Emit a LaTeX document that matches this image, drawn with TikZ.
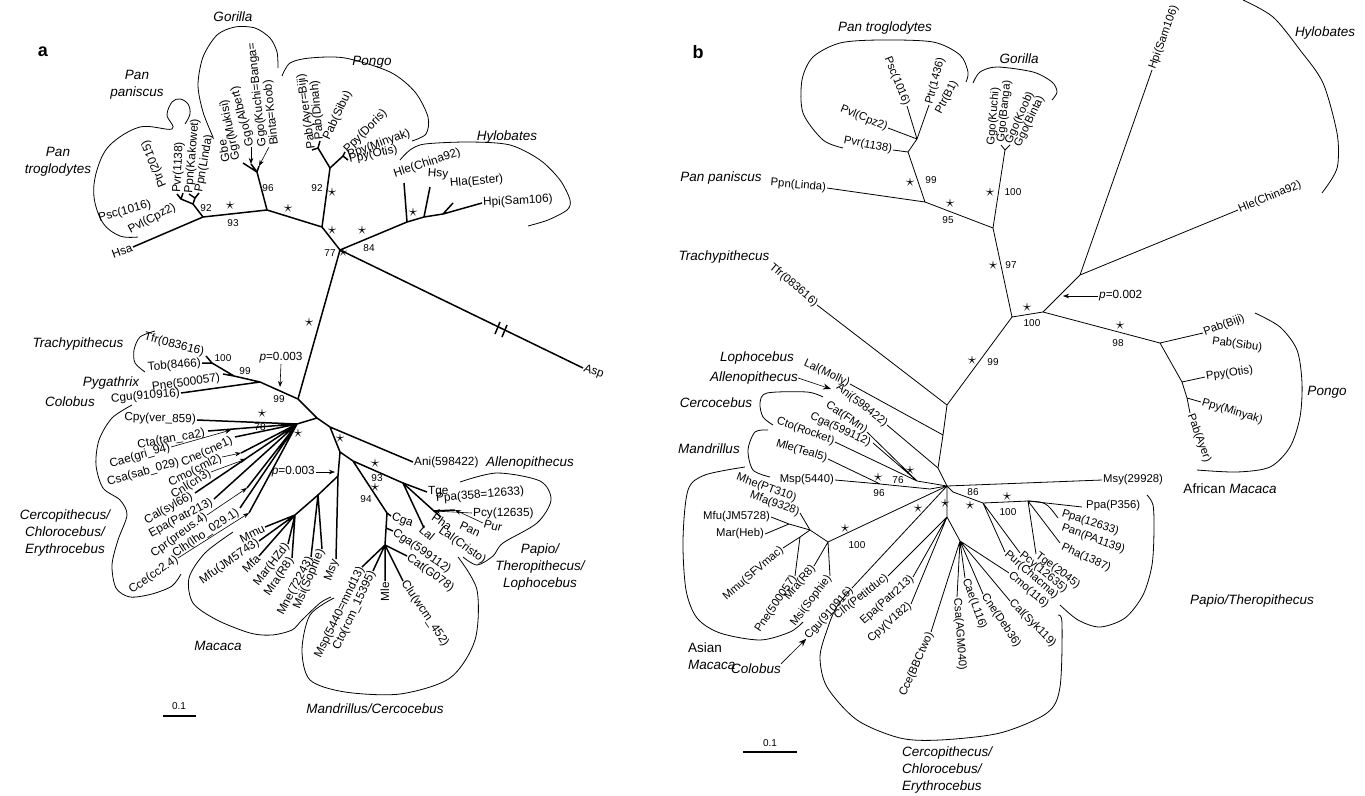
\documentclass[tikz,border=0pt]{standalone}
\usepackage{fontspec}
\setmainfont{Liberation Sans}
\usetikzlibrary{arrows.meta}

\tikzset{
  lab/.style={font=\fontsize{11.8}{12}\selectfont, inner sep=1pt},
  labb/.style={font=\fontsize{11.3}{12}\selectfont, inner sep=1pt},
  grp/.style={font=\fontsize{13.5}{17}\selectfont\itshape, align=center, inner sep=0pt},
  num/.style={font=\fontsize{10}{10}\selectfont, inner sep=0pt},
  sig/.style={font=\fontsize{17}{17}\selectfont, inner sep=0pt},
  bra/.style={line width=1.5pt, line join=round},
  brb/.style={line width=0.8pt, line join=round},
  outl/.style={line width=0.8pt},
  parr/.style={-{Stealth[length=6pt, width=4.5pt]}, line width=0.6pt},
}

\begin{document}
\begin{tikzpicture}[x=1pt, y=-1pt]
\useasboundingbox (0,0) rectangle (1365,795);

% ===== a =====
\node[font=\fontsize{18}{18}\selectfont\bfseries] (pa) at (43,52) {a};

% --- apes ---
\coordinate (aHsa) at (133,247);
\coordinate (a93) at (203,217);
\coordinate (a92) at (193,204);
\coordinate (aCh) at (181,199);
\coordinate (aCh1) at (177,194);
\coordinate (aCh2) at (183,193);
\coordinate (aBo) at (195,198);
\coordinate (aBo1) at (189,194);
\coordinate (aBo2) at (199,193);
\coordinate (aG) at (267,210);
\coordinate (aGt) at (257,172);
\coordinate (aG1) at (243,163);
\coordinate (aG2) at (251,164);
\coordinate (aG3) at (259,166);
\coordinate (aP) at (322,227);
\coordinate (aR) at (340,250);
\coordinate (aPs) at (330,168);
\coordinate (aPl) at (318,148);
\coordinate (aPl1) at (312,150);
\coordinate (aPl2) at (320,141);
\coordinate (aPr) at (343,156);
\coordinate (aPr1) at (345,152);
\coordinate (aPr2) at (348,160);
\coordinate (aH) at (407,222);
\coordinate (aH2) at (424,217);
\coordinate (aH3) at (443,214);
\coordinate (aHle) at (404,183);
\coordinate (aHsy) at (430,187);
\coordinate (aHla) at (453,203);
\coordinate (aHpi) at (482,203);

\draw[bra] (aHsa) -- (a93) -- (aG) -- (aP) -- (aR);
\draw[bra] (a93) -- (a92) -- (aCh) (aCh1) -- (aCh) -- (aCh2);
\draw[bra] (a92) -- (aBo) (aBo1) -- (aBo) -- (aBo2);
\draw[bra] (aG) -- (aGt) (aG1) -- (aGt) -- (aG3) (aGt) -- (aG2);
\draw[bra] (aP) -- (aPs) -- (aPl) (aPs) -- (aPr) (aPl1) -- (aPl) -- (aPl2) (aPr1) -- (aPr) -- (aPr2);
\draw[bra] (aR) -- (aH) -- (aH2) -- (aH3) -- (aHpi) (aH) -- (aHle) (aH2) -- (aHsy) (aH3) -- (aHla);

\node[lab, rotate=20, anchor=east] (lHsa) at (aHsa) {Hsa};
\node[lab, rotate=15, anchor=east] (lPsc) at (152,204) {Psc(1016)};
\node[lab, rotate=28, anchor=east] (lPvl) at (176,206) {Pvl(Cpz2)};
\node[lab, rotate=112, anchor=west] (lPtr) at (164,188) {Ptr(2015)};
\node[lab, rotate=87, anchor=west] (lPvr) at (aCh1) {Pvr(1138)};
\node[lab, rotate=85, anchor=west] (lPpnK) at (aBo1) {Ppn(Kakowet)};
\node[lab, rotate=80, anchor=west] (lPpnL) at (aBo2) {Ppn(Linda)};
\node[lab, rotate=100, anchor=west] (lGbe) at (226,163) {Gbe};
\node[lab, rotate=102, anchor=west] (lGgr) at (237,161) {Ggr(Mukisi)};
\node[lab, rotate=105, anchor=west] (lGgoA) at (251,147) {Ggo(Albert)};
\node[lab, rotate=96, anchor=west, align=left] (lGgoK) at (269,147) {Ggo(Kuchi=Banga=\\Binta=Koob)};
\draw[parr] (lGgoA.west) -- (aG2);
\draw[parr] (lGgoK.west) -- (aG3);
\node[lab, rotate=98, anchor=west] (lPabA) at (aPl1) {Pab(Ayer=Biji)};
\node[lab, rotate=95, anchor=west] (lPabD) at (aPl2) {Pab(Dinah)};
\node[lab, rotate=65, anchor=west] (lPabS) at (326,140) {Pab(Sibu)};
\node[lab, rotate=45, anchor=west] (lPpyD) at (aPr1) {Ppy(Doris)};
\node[lab, rotate=20, anchor=west] (lPpyM) at (347,156) {Ppy(Minyak)};
\node[lab, rotate=12, anchor=west] (lPpyO) at (aPr2) {Ppy(Otis)};
\node[lab, rotate=18, anchor=south west] (lHle) at (395,181) {Hle(China92)};
\node[lab, rotate=-4] (lHsy) at (438,174) {Hsy};
\node[lab, rotate=5, anchor=west] (lHla) at (449,184) {Hla(Ester)};
\node[lab, rotate=3, anchor=west] (lHpi) at (aHpi) {Hpi(Sam106)};

\node[num] (na1) at (206,208) {92};
\node[sig] (sa1) at (230,205) {$\star$};
\node[num] (na2) at (233,223) {93};
\node[num] (na3) at (268,188) {96};
\node[sig] (sa2) at (288,208) {$\star$};
\node[num] (na4) at (317,188) {92};
\node[sig] (sa3) at (332,192) {$\star$};
\node[sig] (sa4) at (332,230) {$\star$};
\node[num] (na5) at (330,253) {77};
\node[sig] (sa5) at (343,252) {$\star$};
\node[sig] (sa6) at (362,230) {$\star$};
\node[num] (na6) at (369,248) {84};
\node[sig] (sa7) at (413,212) {$\star$};

\node[grp] (gGor) at (233,17) {Gorilla};
\node[grp] (gPon) at (372,62) {Pongo};
\node[grp] (gHyl) at (507,137) {Hylobates};
\node[grp] (gPpa) at (137,85) {Pan\\paniscus};
\node[grp] (gPtr) at (58,162) {Pan\\troglodytes};

\draw[outl] plot[smooth, tension=0.6] coordinates {(138,237) (120,236) (103,223) (94,197) (97,170) (110,145) (140,127) (172,129) (167,115) (172,102) (180,99) (188,104) (190,114) (185,124)};
\draw[outl] plot[smooth] coordinates {(213,137) (203,112) (198,85) (203,57) (217,35) (235,27) (255,28) (270,38) (277,52) (278,68)};
\draw[outl] plot[smooth] coordinates {(282,76) (290,63) (310,58) (345,58) (390,72) (415,92) (428,117) (426,134) (412,141)};
\draw[outl] plot[smooth] coordinates {(400,160) (410,150) (425,144) (470,142) (510,145) (540,160) (560,180) (570,200) (567,210) (548,220) (528,226)};

% --- long branches ---
\coordinate (aO) at (298,399);
\coordinate (aAsp) at (583,368);
\draw[bra] (aR) -- (aO);
\draw[bra] (aR) -- (aAsp);
\draw[bra] (495,334) -- (500,322) (502,337) -- (507,325);
\node[lab, rotate=-20, anchor=west] (lAsp) at (aAsp) {Asp};
\node[sig] (sa8) at (309,322) {$\star$};

% --- colobines ---
\coordinate (aC1) at (260,382);
\coordinate (aC2) at (234,376);
\coordinate (aC3) at (212,363);
\coordinate (aCgu) at (181,393);
\coordinate (aPne) at (223,374);
\coordinate (aTob) at (202,363);
\coordinate (aTfr) at (206,356);
\draw[bra] (aO) -- (aC1) -- (aC2) -- (aC3) -- (aTob) (aC3) -- (aTfr) (aC2) -- (aPne) (aC1) -- (aCgu);
\node[lab, rotate=5, anchor=east] (lCgu) at (aCgu) {Cgu(910916)};
\node[lab, rotate=8, anchor=east] (lPne) at (221,378) {Pne(500057)};
\node[lab, rotate=5, anchor=east] (lTob) at (aTob) {Tob(8466)};
\node[lab, rotate=-15, anchor=east] (lTfr) at (205,353) {Tfr(083616)};
\node[num] (na7) at (223,358) {100};
\node[num] (na8) at (245,371) {99};
\node[num] (na9) at (279,399) {99};
\node[lab, anchor=south] (pa1) at (281,364) {\textit{p}=0.003};
\coordinate (aPt1) at (280,387);
\draw[parr] (pa1.south) -- (aPt1);
\node[grp] (gTra) at (78,344) {Trachypithecus};
\node[grp] (gPyg) at (111,383) {Pygathrix};
\node[grp] (gCol) at (70,402) {Colobus};
\draw[outl] plot[smooth] coordinates {(155,331) (140,337) (134,350) (135,363) (145,372)};

% --- cercopithecines ---
\coordinate (aJO) at (317,418);
\coordinate (aJC) at (297,424);
\coordinate (aJA) at (330,427);
\coordinate (aAni) at (413,462);
\coordinate (aPp) at (340,452);
\coordinate (aB) at (353,461);
\coordinate (aT) at (403,483);
\coordinate (aTge) at (427,492);
\coordinate (aCg) at (387,513);
\coordinate (aM0) at (338,476);
\coordinate (aMsy) at (336,559);
\coordinate (aJM) at (295,515);
\coordinate (aJM3) at (318,495);
\draw[bra] (aO) -- (aJO) -- (aJC) (aJO) -- (aJA) -- (aAni) (aJA) -- (aPp) -- (aB) -- (aT) -- (aTge) (aB) -- (aCg) (aPp) -- (aM0) -- (aMsy) (aM0) -- (aJM3) -- (aJM);
\node[lab, anchor=west] (lAni) at (aAni) {Ani(598422)};
\node[grp, anchor=west] (gAll) at (486,463) {Allenopithecus};
\node[sig] (sa9) at (340,438) {$\star$};
\node[lab, anchor=east] (pa2) at (316,472) {\textit{p}=0.003};
\coordinate (aPt2) at (335,472);
\draw[parr] (pa2.east) -- (aPt2);
\node[sig] (sa10) at (375,463) {$\star$};
\node[num] (na10) at (377,478) {93};
\node[sig] (sa11) at (375,487) {$\star$};
\node[num] (na11) at (366,499) {94};

% Macaca
\coordinate (aMmu) at (265,527);
\coordinate (aMfu) at (259,541);
\coordinate (aMfa) at (259,556);
\coordinate (aMar) at (288,544);
\coordinate (aMra) at (292,558);
\coordinate (aMne) at (311,557);
\coordinate (aMsi) at (322,549);
\draw[bra] (aMmu) -- (aJM) -- (aMfu) (aMfa) -- (aJM) -- (aMar) (aJM) -- (aMra) (aMne) -- (aJM3) -- (aMsi);
\node[lab, rotate=27, anchor=east] (lMmu) at (aMmu) {Mmu};
\node[lab, rotate=35, anchor=east] (lMfu) at (aMfu) {Mfu(JM5743)};
\node[lab, rotate=45, anchor=east] (lMfa) at (aMfa) {Mfa};
\node[lab, rotate=52, anchor=east] (lMar) at (aMar) {Mar(HZd)};
\node[lab, rotate=56, anchor=east] (lMra) at (aMra) {Mra(R8)};
\node[lab, rotate=62, anchor=east] (lMne) at (aMne) {Mne(72243)};
\node[lab, rotate=67, anchor=east] (lMsi) at (aMsi) {Msi(Sophie)};
\node[lab, rotate=70, anchor=east] (lMsy) at (aMsy) {Msy};
\node[grp] (gMac) at (218,646) {Macaca};
\draw[outl] plot[smooth] coordinates {(233,532) (205,553) (189,578) (193,603) (217,620) (250,633) (272,635) (292,630) (302,620) (320,603) (331,597)};

% Cercopithecini
\coordinate (aCpy) at (197,420);
\coordinate (aCta) at (208,431);
\coordinate (aCae) at (231,430);
\coordinate (aCne) at (235,437);
\coordinate (aCmo) at (241,453);
\coordinate (aCnl) at (246,459);
\coordinate (aCal) at (195,493);
\coordinate (aEpa) at (214,499);
\coordinate (aCpr) at (247,488);
\coordinate (aClh) at (240,508);
\coordinate (aCce) at (249,513);
\draw[bra] (aJC) -- (aCpy) (aJC) -- (aCta) (aJC) -- (aCne) (aJC) -- (aCmo) (aJC) -- (aCal) (aJC) -- (aEpa) (aJC) -- (aCpr) (aJC) -- (aClh) (aJC) -- (aCce);
\node[lab, rotate=-2, anchor=east] (lCpy) at (aCpy) {Cpy(ver\_859)};
\node[lab, rotate=10, anchor=east] (lCta) at (206,433) {Cta(tan\_ca2)};
\node[lab, rotate=16, anchor=east] (lCae) at (171,447) {Cae(gri\_94)};
\node[lab, rotate=16, anchor=east] (lCsa) at (180,462) {Csa(sab\_029)};
\node[lab, rotate=25, anchor=east] (lCne) at (233,440) {Cne(cne1)};
\node[lab, rotate=27, anchor=east] (lCmo) at (222,457) {Cmo(cml2)};
\node[lab, rotate=32, anchor=east] (lCnl) at (211,472) {Cnl(cn3)};
\node[lab, rotate=29, anchor=east] (lCal) at (193,495) {Cal(syl66)};
\node[lab, rotate=28, anchor=east] (lEpa) at (213,501) {Epa(Patr213)};
\node[lab, rotate=36, anchor=east] (lCpr) at (207,515) {Cpr(preus.4)};
\node[lab, rotate=34, anchor=east] (lClh) at (239,511) {Clh(lho\_029.1)};
\node[lab, rotate=35, anchor=east] (lCce) at (178,558) {Cce(cc2.4)};
\draw[parr] (lCae.east) -- (aCae);
\draw[parr] (lCmo.east) -- (aCmo);
\draw[parr] (lCnl.east) -- (aCnl);
\draw[parr] (lCpr.east) -- (aCpr);
\draw[parr] (lCce.east) -- (aCce);
\node[sig] (sa12) at (262,413) {$\star$};
\node[num] (na12) at (260,427) {78};
\node[sig] (sa13) at (298,433) {$\star$};
\node[grp] (gCer) at (65,533) {Cercopithecus/\\Chlorocebus/\\Erythrocebus};
\draw[outl] plot[smooth] coordinates {(132,405) (112,418) (99,440) (96,465) (103,488) (120,500) (127,515) (118,540) (112,565) (116,588) (130,597) (152,594) (172,586) (181,574)};

% Papionini
\coordinate (aLal) at (424,528);
\coordinate (aPa) at (434,511);
\coordinate (aPha) at (441,517);
\coordinate (aPur) at (455,510);
\draw[bra] (aT) -- (aLal) (aT) -- (aPa) -- (aPha) (aPa) -- (aPur);
\node[lab, anchor=west] (lTge) at (aTge) {Tge};
\node[lab, rotate=5, anchor=west] (lPpa) at (435,499) {Ppa(358=12633)};
\node[lab, anchor=west] (lPcy) at (472,513) {Pcy(12635)};
\node[lab, rotate=-15, anchor=west] (lPur) at (483,523) {Pur};
\node[lab, rotate=-35] (lPha) at (442,522) {Pha};
\node[lab, rotate=-25] (lPan) at (470,529) {Pan};
\node[lab, rotate=-40] (lLal) at (427,533) {Lal};
\node[lab, rotate=-35, anchor=west] (lLalC) at (439,529) {Lal(Cristo)};
\draw[parr] (lPcy.west) -- (aPa);
\draw[parr] (lPur.west) -- (aPur);
\node[grp] (gPap) at (540,567) {Papio/\\Theropithecus/\\Lophocebus};
\draw[outl] plot[smooth] coordinates {(460,482) (497,473) (540,481) (551,500) (537,523) (503,543) (493,556) (477,565) (463,557)};

% Mandrillus / Cercocebus
\coordinate (aCga) at (391,516);
\coordinate (aCg2) at (385,545);
\coordinate (aCgx) at (386,528);
\coordinate (aCga2) at (393,531);
\coordinate (aMsp) at (362,567);
\coordinate (aCto) at (373,571);
\coordinate (aMle) at (385,581);
\coordinate (aClu) at (403,581);
\coordinate (aCat) at (407,556);
\draw[bra] (aCg) -- (aCga) (aCg) -- (aCg2) (aCgx) -- (aCga2) (aCg2) -- (aMsp) (aCg2) -- (aCto) (aCg2) -- (aMle) (aCg2) -- (aClu) (aCg2) -- (aCat);
\node[lab, rotate=-20, anchor=west] (lCga) at (aCga) {Cga};
\node[lab, rotate=-35, anchor=west] (lCga2) at (aCga2) {Cga(599112)};
\node[lab, rotate=64, anchor=east] (lMsp) at (aMsp) {Msp(5440=mnd13)};
\node[lab, rotate=65, anchor=east] (lCto) at (aCto) {Cto(rcm\_15395)};
\node[lab, rotate=90, anchor=east] (lMle) at (aMle) {Mle};
\node[lab, rotate=-56, anchor=west] (lClu) at (aClu) {Clu(wcm\_452)};
\node[lab, rotate=-36, anchor=west] (lCat) at (aCat) {Cat(G078)};
\node[grp] (gMan) at (375,709) {Mandrillus/Cercocebus};
\draw[outl] plot[smooth] coordinates {(334,598) (310,615) (302,650) (310,680) (345,692) (400,694) (450,678) (475,640) (477,590) (458,557)};

% scale a
\draw[line width=1.5pt] (163,716) -- (196,716);
\node[num] (sca) at (179,706) {0.1};

% ===== b =====
\node[font=\fontsize{18}{18}\selectfont\bfseries] (pb) at (698,52) {b};

\coordinate (bPvr) at (893,150);
\coordinate (bPt) at (908,152);
\coordinate (bPt2) at (917,139);
\coordinate (bPvl) at (888,128);
\coordinate (bPsc) at (907,106);
\coordinate (bPtr) at (929,105);
\coordinate (bPp) at (925,202);
\coordinate (bPpn) at (827,188);
\coordinate (bHo) at (993,228);
\coordinate (bGo) at (1005,150);
\coordinate (bGo1) at (1001,145);
\coordinate (bGo2) at (1010,145);
\coordinate (bGA) at (1012,317);
\coordinate (bHP) at (1043,312);
\coordinate (bHy) at (1080,275);
\coordinate (bHpi) at (1152,70);
\coordinate (bHle) at (1238,210);
\coordinate (bPo) at (1160,343);
\coordinate (bBiji) at (1203,333);
\coordinate (bPo2) at (1182,382);
\coordinate (bOtis) at (1205,377);
\coordinate (bPo3) at (1187,398);
\coordinate (bMinyak) at (1201,402);
\coordinate (bAyer) at (1190,413);
\draw[brb] (bPvr) -- (bPt) -- (bPt2) -- (bPtr) (bPt2) -- (bPsc) (bPt2) -- (bPvl);
\draw[brb] (bPt) -- (bPp) -- (bPpn) (bPp) -- (bHo) -- (bGo) (bGo1) -- (bGo) -- (bGo2) (bHo) -- (bGA) -- (bHP) -- (bHy) -- (bHpi) (bHy) -- (bHle);
\draw[brb] (bHP) -- (bPo) -- (bBiji) (bPo) -- (bPo2) -- (bOtis) (bPo2) -- (bPo3) -- (bMinyak) (bPo3) -- (bAyer);

\node[labb, rotate=-11, anchor=east] (lbPvr) at (bPvr) {Pvr(1138)};
\node[labb, rotate=-22, anchor=east] (lbPvl) at (bPvl) {Pvl(Cpz2)};
\node[labb, rotate=-68, anchor=east] (lbPsc) at (bPsc) {Psc(1016)};
\node[labb, rotate=75, anchor=west] (lbPtr) at (bPtr) {Ptr(1436)};
\node[labb, rotate=62, anchor=west] (lbPtrB) at (938,114) {Ptr(B1)};
\node[labb, rotate=-5, anchor=east] (lbPpn) at (bPpn) {Ppn(Linda)};
\node[labb, rotate=85, anchor=west] (lbGgoK) at (991,146) {Ggo(Kuchi)};
\node[labb, rotate=84, anchor=west] (lbGgoB) at (1001,143) {Ggo(Banga)};
\node[labb, rotate=66, anchor=west] (lbGgoO) at (1008,144) {Ggo(Koob)};
\node[labb, rotate=64, anchor=west] (lbGgoT) at (1017,147) {Ggo(Binta)};
\node[labb, rotate=70, anchor=west] (lbHpi) at (bHpi) {Hpi(Sam106)};
\node[labb, rotate=22, anchor=west] (lbHle) at (bHle) {Hle(China92)};
\node[labb, rotate=20, anchor=west] (lbBiji) at (bBiji) {Pab(Biji)};
\node[labb, rotate=-8, anchor=west] (lbSibu) at (1211,341) {Pab(Sibu)};
\node[labb, rotate=8, anchor=west] (lbOtis) at (bOtis) {Ppy(Otis)};
\node[labb, rotate=-17, anchor=west] (lbMinyak) at (bMinyak) {Ppy(Minyak)};
\node[labb, rotate=-70, anchor=west] (lbAyer) at (bAyer) {Pab(Ayer)};

\node[sig] (sb1) at (910,182) {$\star$};
\node[num] (nb1) at (931,180) {99};
\node[sig] (sb2) at (950,203) {$\star$};
\node[num] (nb2) at (948,220) {95};
\node[sig] (sb3) at (990,192) {$\star$};
\node[num] (nb3) at (1013,192) {100};
\node[sig] (sb4) at (993,265) {$\star$};
\node[num] (nb4) at (1011,265) {97};
\node[sig] (sb5) at (1027,307) {$\star$};
\node[num] (nb5) at (1032,323) {100};
\node[sig] (sb6) at (1120,325) {$\star$};
\node[num] (nb6) at (1118,343) {98};
\node[lab, anchor=west] (pb1) at (1098,296) {\textit{p}=0.002};
\coordinate (bPt1) at (1063,296);
\draw[parr] (pb1.west) -- (bPt1);

\node[grp] (gbPtr) at (885,28) {Pan troglodytes};
\node[grp] (gbGor) at (1019,59) {Gorilla};
\node[grp] (gbHyl) at (1325,33) {Hylobates};
\node[grp] (gbPpa) at (721,178) {Pan paniscus};
\node[grp] (gbPon) at (1327,392) {Pongo};
\draw[outl] plot[smooth] coordinates {(843,148) (823,140) (803,113) (802,80) (813,57) (840,43) (880,40) (933,42) (960,55) (968,72) (966,82)};
\draw[outl] plot[smooth] coordinates {(973,83) (980,72) (997,67) (1033,72) (1052,82) (1057,92) (1052,100)};
\draw[outl] plot[smooth] coordinates {(1243,0) (1273,17) (1300,50) (1323,83) (1337,133) (1338,163) (1333,177) (1322,193)};
\draw[outl] plot[smooth] coordinates {(1255,313) (1280,327) (1297,350) (1302,383) (1300,417) (1290,447) (1270,467) (1237,472) (1197,470)};

% --- Old World monkeys ---
\coordinate (bOW) at (947,405);
\coordinate (bTfr) at (817,305);
\coordinate (bLn) at (943,435);
\coordinate (bLal) at (850,384);
\coordinate (bSt) at (938,468);
\coordinate (bAni) at (887,425);
\coordinate (bC0) at (947,486);
\coordinate (bMsy) at (1102,480);
\draw[brb] (bGA) -- (bOW) -- (bTfr) (bOW) -- (bLn) -- (bSt) -- (bC0) (bLn) -- (bLal) (bSt) -- (bAni) (bC0) -- (bMsy);
\node[sig] (sb7) at (972,360) {$\star$};
\node[num] (nb7) at (993,362) {99};
\node[labb, rotate=-40, anchor=east] (lbTfr) at (bTfr) {Tfr(083616)};
\node[labb, rotate=-25, anchor=east] (lbLal) at (bLal) {Lal(Molly)};
\node[labb, rotate=-38, anchor=east] (lbAni) at (bAni) {Ani(598422)};
\node[labb, anchor=west] (lbMsy) at (bMsy) {Msy(29928)};
\node[grp] (gbTra) at (724,257) {Trachypithecus};
\node[grp] (gbLop) at (757,358) {Lophocebus};
\node[grp] (gbAll) at (754,378) {Allenopithecus};
\coordinate (bAniA) at (831,389);
\draw[-{Stealth[length=8pt, width=6pt]}, line width=0.6pt] (gbAll.east) -- (bAniA);
\node[font=\fontsize{13.5}{17}\selectfont, inner sep=0pt] (gbAfr) at (1230,489) {African \textit{Macaca}};

% Mandrillus / Cercocebus
\coordinate (bM0) at (930,489);
\coordinate (bMM) at (880,484);
\coordinate (bMsp) at (835,480);
\coordinate (bMle) at (828,459);
\coordinate (bC1) at (917,481);
\coordinate (bCto) at (835,442);
\coordinate (bCat) at (867,432);
\coordinate (bCga) at (873,443);
\draw[brb] (bC0) -- (bM0) -- (bMM) -- (bMsp) (bMM) -- (bMle) (bC0) -- (bC1) -- (bCto) (bC1) -- (bCat) (bC1) -- (bCga);
\node[labb, rotate=-35, anchor=east] (lbCat) at (bCat) {Cat(FMn)};
\node[labb, rotate=-25, anchor=east] (lbCga) at (871,444) {Cga(599112)};
\node[labb, rotate=-20, anchor=east] (lbCto) at (bCto) {Cto(Rocket)};
\node[labb, rotate=-17, anchor=east] (lbMle) at (bMle) {Mle(Teal5)};
\node[labb, anchor=east] (lbMsp) at (bMsp) {Msp(5440)};
\node[sig] (sb8) at (910,470) {$\star$};
\node[num] (nb8) at (898,480) {76};
\node[sig] (sb9) at (878,477) {$\star$};
\node[num] (nb9) at (879,493) {96};
\node[grp] (gbCer) at (716,403) {Cercocebus};
\node[grp] (gbMan) at (709,449) {Mandrillus};
\draw[outl] plot[smooth] coordinates {(823,397) (807,392) (767,393) (760,403) (763,417) (773,425)};
\draw[outl] plot[smooth] coordinates {(768,430) (755,432) (748,450) (753,470) (770,477)};

% Papio / Theropithecus
\coordinate (bPT) at (953,492);
\coordinate (bPa) at (983,503);
\coordinate (bPa2) at (1028,501);
\coordinate (bPpa) at (1082,507);
\coordinate (bPpa2) at (1058,518);
\coordinate (bPha) at (1060,543);
\coordinate (bTge) at (1036,554);
\coordinate (bPcy) at (1020,553);
\coordinate (bPur) at (1005,552);
\draw[brb] (bC0) -- (bPT) -- (bPa) -- (bPa2) -- (bPpa) (bPa2) -- (bPha) (bPa2) -- (bTge) (bPa) -- (bPcy) (bPa) -- (bPur);
\draw[brb] (bPa2) .. controls (1046,502) .. (bPpa2);
\node[labb, anchor=west] (lbPpa) at (1085,506) {Ppa(P356)};
\node[labb, rotate=-18, anchor=west] (lbPpa2) at (1061,513) {Ppa(12633)};
\node[labb, rotate=-20, anchor=west] (lbPan) at (1061,527) {Pan(PA1139)};
\node[labb, rotate=-25, anchor=west] (lbPha) at (1061,546) {Pha(1387)};
\node[labb, rotate=-37, anchor=west] (lbTge) at (bTge) {Tge(2045)};
\node[labb, rotate=-39, anchor=west] (lbPcy) at (bPcy) {Pcy(12635)};
\node[labb, rotate=-41, anchor=west] (lbPur) at (bPur) {Pur(Chacma)};
\node[num] (nb10) at (973,492) {86};
\node[sig] (sb10) at (970,505) {$\star$};
\node[sig] (sb11) at (1007,496) {$\star$};
\node[num] (nb11) at (1008,512) {100};
\node[grp] (gbPap) at (1252,601) {Papio/Theropithecus};
\draw[outl] plot[smooth] coordinates {(1147,495) (1153,505) (1154,530) (1152,565) (1143,595) (1125,618) (1100,627) (1078,620) (1060,605)};

% Cercopithecini
\coordinate (bCC) at (947,517);
\coordinate (bClh) at (888,576);
\coordinate (bEpa) at (913,577);
\coordinate (bCpy) at (911,604);
\coordinate (bCC2) at (960,541);
\coordinate (bCce) at (931,632);
\coordinate (bCsa) at (957,597);
\coordinate (bCae) at (965,578);
\coordinate (bCne) at (983,594);
\coordinate (bCal) at (1010,601);
\coordinate (bCmo) at (1009,573);
\coordinate (bCgu) at (852,588);
\draw[brb] (bC0) -- (bCC) -- (bClh) (bCC) -- (bEpa) (bCC) -- (bCpy) (bCC) -- (bCC2) -- (bCce) (bCC2) -- (bCsa) (bCC2) -- (bCae) (bCC2) -- (bCne) (bCC2) -- (bCal) (bCC2) -- (bCmo) (bC0) -- (bCgu);
\node[labb, rotate=38, anchor=east] (lbClh) at (bClh) {Clh(Petitduc)};
\node[labb, rotate=42, anchor=east] (lbEpa) at (bEpa) {Epa(Patr213)};
\node[labb, rotate=41, anchor=east] (lbCpy) at (bCpy) {Cpy(V182)};
\node[labb, rotate=66, anchor=east] (lbCce) at (bCce) {Cce(BBCtwo)};
\node[labb, rotate=-86, anchor=west] (lbCsa) at (bCsa) {Csa(AGM040)};
\node[labb, rotate=-70, anchor=west] (lbCae) at (bCae) {Cae(L116)};
\node[labb, rotate=-56, anchor=west] (lbCne) at (bCne) {Cne(Deb36)};
\node[labb, rotate=-45, anchor=west] (lbCal) at (bCal) {Cal(Syk119)};
\node[labb, rotate=-41, anchor=west] (lbCmo) at (bCmo) {Cmo(116)};
\node[labb, rotate=48, anchor=east] (lbCgu) at (bCgu) {Cgu(910916)};
\node[sig] (sb12) at (945,503) {$\star$};
\node[sig] (sb13) at (918,508) {$\star$};
\node[grp] (gbCol) at (756,669) {Colobus};
\draw[parr, -{Stealth[length=8pt, width=6pt]}] (gbCol.north east) -- (lbCgu.west);
\node[grp, align=left, anchor=north west] (gbCer2) at (902,747) {Cercopithecus/\\Chlorocebus/\\Erythrocebus};
\draw[outl] plot[smooth] coordinates {(850,590) (836,608) (827,630) (820,657) (827,687) (857,720) (900,738) (940,740) (1000,733) (1047,713) (1060,687) (1062,623) (1058,615)};

% Asian Macaca
\coordinate (bA1) at (828,542);
\coordinate (bA2) at (810,530);
\coordinate (bA3) at (789,524);
\coordinate (bMfu) at (771,517);
\coordinate (bMar) at (765,534);
\coordinate (bMfa) at (800,513);
\coordinate (bA4) at (800,537);
\coordinate (bMmu) at (783,548);
\coordinate (bPne) at (795,576);
\coordinate (bMra) at (814,566);
\coordinate (bMsi) at (830,576);
\draw[brb] (bC0) -- (bA1) -- (bA2) -- (bA3) -- (bMfu) (bA3) -- (bMar) (bA2) -- (bMfa) (bA2) -- (bA4) -- (bMmu) (bA4) -- (bPne) (bA1) -- (bMra) (bA1) -- (bMsi);
\node[labb, rotate=-20, anchor=east] (lbMhe) at (797,499) {Mhe(PT310)};
\node[labb, rotate=-20, anchor=east] (lbMfa) at (bMfa) {Mfa(9328)};
\node[labb, anchor=east] (lbMfu) at (bMfu) {Mfu(JM5728)};
\node[labb, anchor=east] (lbMar) at (bMar) {Mar(Heb)};
\node[labb, rotate=41, anchor=east] (lbMmu) at (bMmu) {Mmu(SFVmac)};
\node[labb, rotate=56, anchor=east] (lbPne) at (bPne) {Pne(500057)};
\node[labb, rotate=50, anchor=east] (lbMra) at (bMra) {Mra(R8)};
\node[labb, rotate=53, anchor=east] (lbMsi) at (bMsi) {Msi(Sophie)};
\node[sig] (sb14) at (845,528) {$\star$};
\node[num] (nb14) at (857,545) {100};
\node[font=\fontsize{13.5}{17}\selectfont, align=left, anchor=north west, inner sep=0pt] (gbAsi) at (688,643) {Asian\\\textit{Macaca}};
\draw[outl] plot[smooth] coordinates {(745,467) (705,475) (688,490) (683,540) (686,590) (697,618) (720,633) (760,640) (790,632) (803,622)};

% scale b
\draw[line width=1.5pt] (743,752) -- (797,752);
\node[num] (scb) at (770,743) {0.1};

\end{tikzpicture}
\end{document}
